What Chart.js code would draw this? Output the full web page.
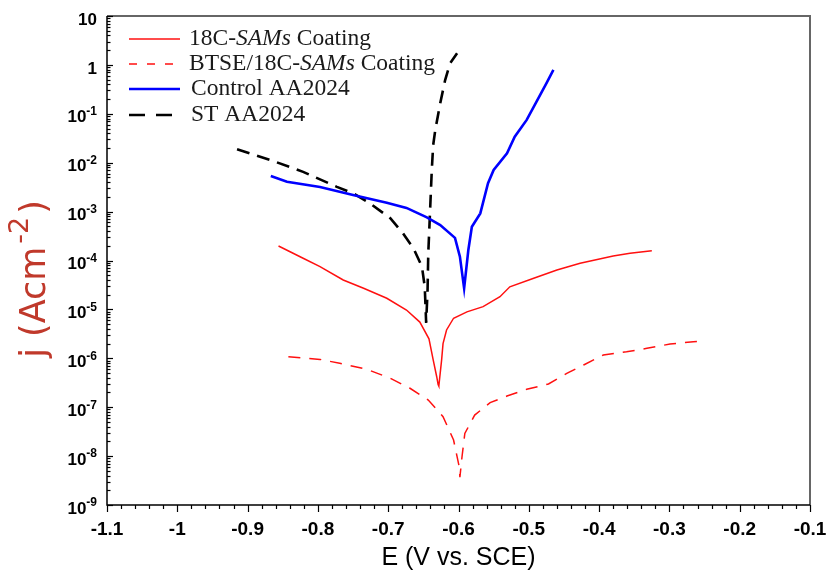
<!DOCTYPE html>
<html><head><meta charset="utf-8">
<script src="https://cdn.jsdelivr.net/npm/chart.js@4/dist/chart.umd.min.js"></script>
<style>html,body{margin:0;padding:0;background:#fff}#wrap{width:828px;height:578px}</style>
</head><body><div id="wrap"><canvas id="c" width="828" height="578"></canvas></div>
<script>
// ---- data ----
const seriesLabels = ['18C-SAMs Coating', 'BTSE/18C-SAMs Coating', 'Control AA2024', 'ST AA2024'];

const E_18C = [-0.856,-0.821,-0.797,-0.764,-0.735,-0.702,-0.674,-0.655,-0.642,-0.636,-0.631,-0.629,-0.628,-0.624,-0.622,-0.617,-0.607,-0.588,-0.565,-0.541,-0.527,-0.494,-0.460,-0.427,-0.380,-0.356,-0.325];
const J_18C = [1.98e-4,1.11e-4,7.5e-5,4.0e-5,2.7e-5,1.69e-5,9.7e-6,5.5e-6,2.5e-6,9.3e-7,4.2e-7,2.9e-7,2.7e-7,9.3e-7,2.0e-6,3.8e-6,6.6e-6,8.9e-6,1.14e-5,1.82e-5,2.9e-5,4.3e-5,6.4e-5,8.8e-5,1.24e-4,1.40e-4,1.58e-4];

const E_BTSE = [-0.842,-0.797,-0.769,-0.731,-0.697,-0.669,-0.643,-0.622,-0.607,-0.599,-0.598,-0.595,-0.591,-0.577,-0.555,-0.531,-0.503,-0.472,-0.446,-0.422,-0.394,-0.361,-0.332,-0.299,-0.266,-0.252];
const J_BTSE = [1.08e-6,9.5e-7,7.9e-7,6.0e-7,3.9e-7,2.44e-7,1.40e-7,6.4e-8,2.13e-8,6.1e-9,3.7e-9,9.7e-9,2.9e-8,6.9e-8,1.24e-7,1.69e-7,2.32e-7,2.98e-7,4.9e-7,7.3e-7,1.17e-6,1.36e-6,1.60e-6,1.96e-6,2.18e-6,2.26e-6];

const E_CTRL = [-0.867,-0.844,-0.797,-0.750,-0.702,-0.674,-0.645,-0.626,-0.605,-0.598,-0.592,-0.586,-0.581,-0.569,-0.558,-0.550,-0.531,-0.520,-0.503,-0.489,-0.475,-0.465];
const J_CTRL = [5.35e-3,4.08e-3,3.18e-3,2.18e-3,1.52e-3,1.19e-3,7.6e-4,5.3e-4,2.9e-4,1.2e-4,2.7e-5,1.64e-4,4.9e-4,9.2e-4,3.8e-3,7.1e-3,1.56e-2,3.4e-2,7.5e-2,0.177,0.42,0.79];

const E_ST = [-0.915,-0.868,-0.821,-0.773,-0.750,-0.726,-0.697,-0.679,-0.664,-0.652,-0.648,-0.646,-0.644,-0.643,-0.641,-0.638,-0.636,-0.633,-0.626,-0.619,-0.612,-0.602];
const J_ST = [1.88e-2,1.14e-2,6.5e-3,3.2e-3,2.37e-3,1.48e-3,7.3e-4,3.6e-4,1.77e-4,7.5e-5,2.9e-5,5.3e-6,2.5e-5,1.4e-4,6.7e-4,7.1e-3,2.3e-2,4.7e-2,0.164,0.49,1.08,1.73];

const yTickValues = [10,1,1e-1,1e-2,1e-3,1e-4,1e-5,1e-6,1e-7,1e-8,1e-9];
const yTickBase = ['10','1','10','10','10','10','10','10','10','10','10'];
const yTickExp  = ['','','-1','-2','-3','-4','-5','-6','-7','-8','-9'];
const xTitle = 'E (V vs. SCE)';
const yTitleMain = 'j (Acm';
const yTitleSup = '-2';
const yTitleEnd = ')';

const pts = (E, J) => E.map((e, i) => ({x: e, y: J[i]}));

const styles = [
  {color:'#ff1010', width:1.5, dash:[]},
  {color:'#ff1010', width:1.5, dash:[12,9]},
  {color:'#0000ff', width:2.6, dash:[]},
  {color:'#000000', width:2.6, dash:[13,8]}
];

// ---- plugins ----
const framePlugin = {
  id: 'frame',
  beforeDatasetsDraw(chart) {
    const {ctx, chartArea: a, scales: {x, y}} = chart;
    ctx.save();
    ctx.strokeStyle = '#666'; ctx.lineWidth = 2;
    ctx.beginPath(); ctx.moveTo(a.left, a.top); ctx.lineTo(a.right, a.top); ctx.lineTo(a.right, a.bottom); ctx.stroke();
    ctx.strokeStyle = '#000'; ctx.lineWidth = 1.5;
    ctx.beginPath(); ctx.moveTo(a.left, a.top); ctx.lineTo(a.left, a.bottom); ctx.lineTo(a.right, a.bottom); ctx.stroke();
    ctx.lineWidth = 1.2;
    for (let i = 0; i <= 50; i++) {
      const v = x.min + i * 0.02;
      const px = Math.round(x.getPixelForValue(v)) + 0.5;
      const len = i % 5 === 0 ? 7 : 4;
      ctx.beginPath(); ctx.moveTo(px, a.bottom); ctx.lineTo(px, a.bottom + len); ctx.stroke();
    }
    for (let e = -9; e <= 1; e++) {
      for (let m = 1; m <= 9; m++) {
        const v = m * Math.pow(10, e);
        if (v > y.max * 1.0001) break;
        const py = Math.round(y.getPixelForValue(v)) + 0.5;
        const len = m === 1 ? 6 : 3.5;
        ctx.beginPath(); ctx.moveTo(a.left, py); ctx.lineTo(a.left + len, py); ctx.stroke();
      }
    }
    ctx.restore();
  },
  afterDraw(chart) {
    const {ctx, chartArea: a, scales: {y}} = chart;
    ctx.save();
    // y tick labels with superscripts
    ctx.fillStyle = '#000';
    ctx.textBaseline = 'middle';
    const baseFont = 'bold 17px "Liberation Sans", Arial, sans-serif';
    const expFont = 'bold 12px "Liberation Sans", Arial, sans-serif';
    yTickValues.forEach((v, i) => {
      const py = y.getPixelForValue(v);
      ctx.font = expFont;
      const we = yTickExp[i] ? ctx.measureText(yTickExp[i]).width : 0;
      ctx.font = baseFont;
      const wb = ctx.measureText(yTickBase[i]).width;
      const right = a.left - 10;
      ctx.textAlign = 'left';
      ctx.fillText(yTickBase[i], right - we - wb, py + 4);
      if (yTickExp[i]) { ctx.font = expFont; ctx.fillText(yTickExp[i], right - we, py - 2); }
    });
    // y title
    ctx.save();
    ctx.translate(36, 279);
    ctx.rotate(-Math.PI / 2);
    ctx.fillStyle = '#c0392b';
    ctx.textBaseline = 'middle';
    ctx.textAlign = 'left';
    const mf = '35px "DejaVu Sans", sans-serif', sf = '27px "DejaVu Sans", sans-serif';
    ctx.font = mf; const w1 = ctx.measureText(yTitleMain).width; const w3 = ctx.measureText(yTitleEnd).width;
    ctx.font = sf; const w2 = ctx.measureText(yTitleSup).width;
    const W = w1 + w2 + w3 + 6;
    let sx = -W / 2;
    ctx.font = mf; ctx.fillText(yTitleMain, sx, 0); sx += w1 + 3;
    ctx.font = sf; ctx.fillText(yTitleSup, sx, -15); sx += w2 + 3;
    ctx.font = mf; ctx.fillText(yTitleEnd, sx, 0);
    ctx.restore();
    // legend
    const rowsY = [39, 64, 89, 115];
    const textFont = '23.5px "Liberation Serif", "Times New Roman", serif';
    const italFont = 'italic 23.5px "Liberation Serif", "Times New Roman", serif';
    chart.data.datasets.forEach((ds, i) => {
      const yy = rowsY[i];
      const st = styles[i];
      ctx.save();
      ctx.strokeStyle = st.color;
      ctx.lineWidth = st.width;
      if (i === 1) ctx.setLineDash([8, 10]);
      else if (i === 3) ctx.setLineDash([16, 11]);
      ctx.beginPath(); ctx.moveTo(129, yy); ctx.lineTo(180, yy); ctx.stroke();
      ctx.restore();
      ctx.fillStyle = '#1a1a1a';
      ctx.textBaseline = 'middle';
      ctx.textAlign = 'left';
      const label = ds.label;
      const idx = label.indexOf('SAMs');
      let tx = 189 + (i >= 2 ? 2 : 0);
      if (idx >= 0) {
        const pre = label.slice(0, idx), it = 'SAMs', post = label.slice(idx + 4);
        ctx.font = textFont; ctx.fillText(pre, tx, yy); tx += ctx.measureText(pre).width;
        ctx.font = italFont; ctx.fillText(it, tx, yy); tx += ctx.measureText(it).width;
        ctx.font = textFont; ctx.fillText(post, tx, yy);
      } else {
        ctx.font = textFont; ctx.fillText(label, tx, yy);
      }
    });
    ctx.restore();
  }
};

const series = [pts(E_18C, J_18C), pts(E_BTSE, J_BTSE), pts(E_CTRL, J_CTRL), pts(E_ST, J_ST)];

new Chart(document.getElementById('c'), {
  type: 'scatter',
  data: {
    datasets: series.map((d, i) => ({
      label: seriesLabels[i],
      data: d,
      showLine: true,
      borderColor: styles[i].color,
      backgroundColor: styles[i].color,
      borderWidth: styles[i].width,
      borderDash: styles[i].dash,
      pointRadius: 0,
      tension: 0,
      fill: false
    }))
  },
  options: {
    responsive: false,
    devicePixelRatio: 1,
    animation: false,
    layout: {padding: {left: 0, right: 18, top: 16, bottom: 0}},
    plugins: {legend: {display: false}, tooltip: {enabled: false}},
    scales: {
      x: {
        type: 'linear', min: -1.1, max: -0.1,
        afterFit: s => { s.height = 73; s.paddingLeft = 0; s.paddingRight = 0; },
        grid: {display: false, drawTicks: false},
        border: {display: false},
        ticks: {
          stepSize: 0.1, padding: 13, color: '#000', maxRotation: 0,
          font: {family: '"Liberation Sans Narrow", "Liberation Sans", Arial, sans-serif', size: 19, weight: 'bold'},
          callback: v => String(Number(v.toFixed(1)))
        },
        title: {display: true, text: xTitle, color: '#000',
          font: {family: '"Liberation Sans Narrow", "Liberation Sans", sans-serif', size: 25},
          padding: {top: 0, bottom: 5}}
      },
      y: {
        type: 'logarithmic', min: 1e-9, max: 10,
        afterFit: s => { s.width = 107; s.paddingTop = 0; s.paddingBottom = 0; },
        afterBuildTicks: s => { s.ticks = yTickValues.map(v => ({value: v})); },
        grid: {display: false, drawTicks: false},
        border: {display: false},
        ticks: {display: false}
      }
    }
  },
  plugins: [framePlugin]
});
</script>
</body></html>
